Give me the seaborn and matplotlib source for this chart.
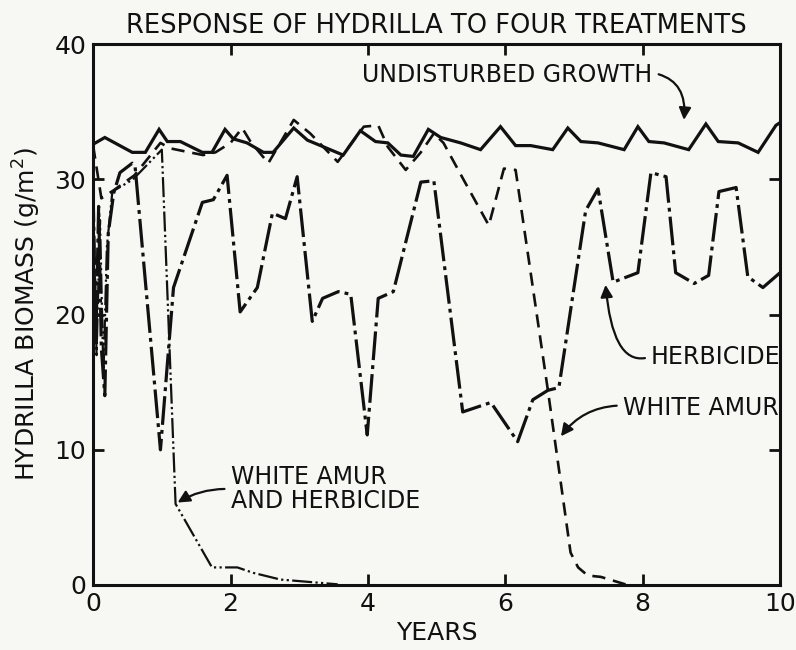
import matplotlib
matplotlib.use("Agg")
import matplotlib.pyplot as plt
import seaborn as sns
import pandas as pd

sns.set_theme(style="white")
plt.rcParams["font.family"] = ["DejaVu Sans"]

# Hydrilla biomass (g/m^2) over ten years under four treatments
undisturbed_years = [0.00, 0.17, 0.57, 0.76, 0.96, 1.08, 1.27, 1.59, 1.73, 1.92, 2.04, 2.24,
                     2.48, 2.62, 2.92, 3.12, 3.31, 3.64, 3.89, 4.11, 4.29, 4.48, 4.66, 4.88,
                     5.06, 5.35, 5.64, 5.93, 6.15, 6.37, 6.69, 6.91, 7.10, 7.35, 7.73, 7.93,
                     8.09, 8.31, 8.67, 8.92, 9.10, 9.39, 9.68, 9.94, 10.0]
undisturbed_biomass = [32.6, 33.1, 32.0, 32.0, 33.7, 32.8, 32.8, 32.0, 32.0, 33.7, 33.0, 32.7,
                       32.0, 32.0, 33.8, 32.9, 32.5, 31.8, 33.6, 32.8, 32.7, 31.8, 31.7, 33.7,
                       33.1, 32.7, 32.2, 33.9, 32.5, 32.5, 32.2, 33.8, 32.8, 32.7, 32.2, 33.9,
                       32.8, 32.7, 32.2, 34.1, 32.8, 32.7, 32.0, 34.0, 34.2]

amur_years = [0.00, 0.12, 0.30, 0.60, 0.98, 1.12, 1.31, 1.60, 1.78, 2.00, 2.17, 2.29, 2.55,
              2.92, 3.16, 3.56, 3.94, 4.15, 4.29, 4.55, 4.77, 4.96, 5.10, 5.39, 5.76, 5.98,
              6.15, 6.62, 6.95, 7.06, 7.20, 7.39, 7.78]
amur_biomass = [32.5, 28.6, 29.2, 30.3, 32.7, 32.3, 32.1, 31.8, 32.0, 32.7, 33.8, 32.8, 31.2,
                34.4, 33.4, 31.3, 33.9, 34.0, 32.4, 30.7, 32.0, 33.4, 32.7, 30.0, 26.6, 30.8,
                30.7, 14.4, 2.4, 1.3, 0.7, 0.6, 0.0]

herbicide_years = [0.00, 0.04, 0.08, 0.12, 0.17, 0.22, 0.30, 0.39, 0.57, 0.61, 0.98, 1.17,
                   1.59, 1.75, 1.95, 2.14, 2.39, 2.61, 2.80, 2.97, 3.19, 3.34, 3.57, 3.75,
                   3.99, 4.15, 4.37, 4.77, 4.96, 5.38, 5.79, 6.18, 6.40, 6.62, 6.78, 7.17,
                   7.35, 7.57, 7.93, 8.12, 8.34, 8.48, 8.75, 8.96, 9.11, 9.36, 9.53, 9.75, 10.0]
herbicide_biomass = [29.0, 18.0, 28.0, 17.5, 14.0, 26.0, 29.0, 30.5, 31.2, 31.0, 10.0, 22.0,
                     28.3, 28.5, 30.3, 20.2, 22.0, 27.5, 27.1, 30.2, 19.5, 21.2, 21.7, 21.5,
                     11.1, 21.2, 21.7, 29.8, 29.9, 12.8, 13.5, 10.6, 13.7, 14.4, 14.6, 27.7,
                     29.3, 22.4, 23.1, 30.5, 30.2, 23.1, 22.3, 22.9, 29.1, 29.4, 22.8, 22.0, 23.1]

combined_years = [0.00, 0.05, 0.10, 0.15, 0.20, 0.28, 0.58, 1.00, 1.20, 1.73, 2.10, 2.33,
                  2.73, 3.21, 3.56]
combined_biomass = [28.5, 17.0, 27.0, 15.5, 25.0, 29.1, 30.0, 32.2, 6.0, 1.3, 1.3, 0.9,
                    0.4, 0.2, 0.05]

x_ticks = [0, 2, 4, 6, 8, 10]
y_ticks = [0, 10, 20, 30, 40]

ink = "#111111"
paper = "#f7f7f4"

fig = plt.figure(figsize=(7.96, 6.5), dpi=100, facecolor=paper)
ax = fig.add_axes([0.117, 0.10, 0.863, 0.832])
ax.set_facecolor(paper)

series = [
    (undisturbed_years, undisturbed_biomass, 2.3, None),
    (amur_years, amur_biomass, 1.9, (5.0, 3.0)),
    (herbicide_years, herbicide_biomass, 2.3, (9.0, 1.6, 1.2, 1.6)),
    (combined_years, combined_biomass, 1.6, (9.0, 1.5, 1.0, 1.5, 1.0, 1.5)),
]
for xs, ys, lw, dash in series:
    df = pd.DataFrame({"year": xs, "biomass": ys})
    sns.lineplot(data=df, x="year", y="biomass", color=ink, linewidth=lw,
                 sort=False, estimator=None, ax=ax)
    line = ax.lines[-1]
    line.set_solid_joinstyle("miter")
    if dash is not None:
        line.set_dashes(dash)

ax.set_xlim(0, 10)
ax.set_ylim(0, 40)
ax.set_xticks(x_ticks)
ax.set_yticks(y_ticks)
ax.set_xticklabels([str(t) for t in x_ticks], fontsize=18)
ax.set_yticklabels([str(t) for t in y_ticks], fontsize=18)
ax.tick_params(direction="in", length=8, width=2, colors=ink, top=True, right=True,
               bottom=True, left=True, pad=5)
for side in ax.spines.values():
    side.set_linewidth(2.2)
    side.set_color(ink)

ax.set_xlabel("YEARS", fontsize=18, color=ink, labelpad=4)
ax.set_ylabel("HYDRILLA BIOMASS (g/m$^2$)", fontsize=18, color=ink, labelpad=8)
ax.set_title("RESPONSE OF HYDRILLA TO FOUR TREATMENTS", fontsize=18.5, color=ink, pad=8)

arrow = dict(arrowstyle="-|>", color=ink, lw=1.6, mutation_scale=18, shrinkA=2, shrinkB=0)

ax.annotate("UNDISTURBED GROWTH", xy=(8.6, 34.4), xytext=(3.92, 37.7),
            fontsize=17, color=ink, va="center", ha="left",
            arrowprops=dict(arrow, connectionstyle="angle3,angleA=-10,angleB=85",
                            relpos=(1.0, 0.6)))
ax.annotate("HERBICIDE", xy=(7.46, 22.2), xytext=(8.12, 16.9),
            fontsize=17, color=ink, va="center", ha="left",
            arrowprops=dict(arrow, connectionstyle="angle3,angleA=-160,angleB=95",
                            relpos=(0.0, 0.5)))
ax.annotate("WHITE AMUR", xy=(6.81, 11.0), xytext=(7.71, 13.1),
            fontsize=17, color=ink, va="center", ha="left",
            arrowprops=dict(arrow, connectionstyle="arc3,rad=0.25",
                            relpos=(0.0, 0.6)))
ax.annotate("WHITE AMUR\nAND HERBICIDE", xy=(1.23, 6.1), xytext=(2.0, 7.1),
            fontsize=17, color=ink, va="center", ha="left", linespacing=1.0,
            arrowprops=dict(arrow, connectionstyle="arc3,rad=0.15",
                            relpos=(0.0, 0.5)))

fig.savefig("out.png", dpi=100, facecolor=paper)
